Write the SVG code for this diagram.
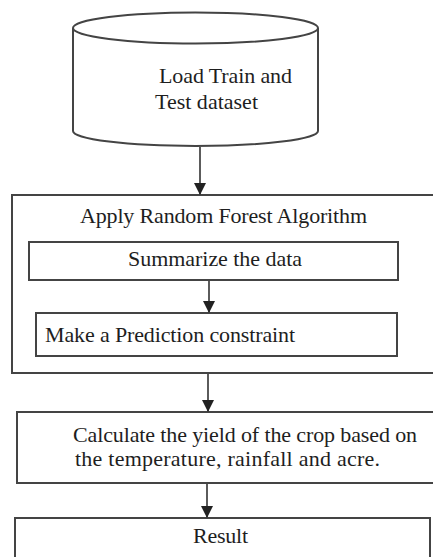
<svg xmlns="http://www.w3.org/2000/svg" width="433" height="557" viewBox="0 0 433 557">
<style>
.s{fill:#fff;stroke:#444;stroke-width:2}
.t{font-family:"Liberation Serif","Times New Roman",serif;font-size:22px;fill:#1e1e1e}
.c{stroke:#333;stroke-width:1.6;fill:none}
</style>
<defs>
<marker id="ah" markerUnits="userSpaceOnUse" markerWidth="12" markerHeight="12" viewBox="0 0 12 12" refX="11" refY="6" orient="auto">
<path d="M0,0 L12,6 L0,12 Z" fill="#222"/>
</marker>
</defs>
<rect width="433" height="557" fill="#fff"/>
<g id="n-load">
<path class="s" d="M73,28 L73,131 A122.5,15 0 0 0 318,131 L318,28"/>
<ellipse class="s" cx="195.5" cy="28" rx="122.5" ry="15.5"/>
<text class="t" x="159" y="83" textLength="133">Load Train and</text>
<text class="t" x="155" y="109" textLength="103">Test dataset</text>
</g>
<g id="n-rf">
<rect class="s" x="12" y="195" width="430" height="178"/>
<text class="t" x="80" y="223" textLength="287">Apply Random Forest Algorithm</text>
</g>
<g id="n-sum">
<rect class="s" x="29" y="242" width="369" height="38"/>
<text class="t" x="128" y="266" textLength="174">Summarize the data</text>
</g>
<g id="n-pred">
<rect class="s" x="36" y="313" width="361" height="43"/>
<text class="t" x="45" y="342" textLength="250">Make a Prediction constraint</text>
</g>
<g id="n-calc">
<rect class="s" x="17" y="412" width="425" height="71"/>
<text class="t" x="73" y="442" textLength="344">Calculate the yield of the crop based on</text>
<text class="t" x="75" y="466" textLength="305">the temperature, rainfall and acre.</text>
</g>
<g id="n-result">
<rect class="s" x="15" y="518" width="415" height="45"/>
<text class="t" x="193" y="543" textLength="55">Result</text>
</g>
<g id="connectors">
<line class="c" x1="200" y1="147" x2="200" y2="194" marker-end="url(#ah)"/>
<line class="c" x1="209" y1="281" x2="209" y2="312" marker-end="url(#ah)"/>
<line class="c" x1="208" y1="374" x2="208" y2="411" marker-end="url(#ah)"/>
<line class="c" x1="207" y1="484" x2="207" y2="517" marker-end="url(#ah)"/>
</g>
</svg>
